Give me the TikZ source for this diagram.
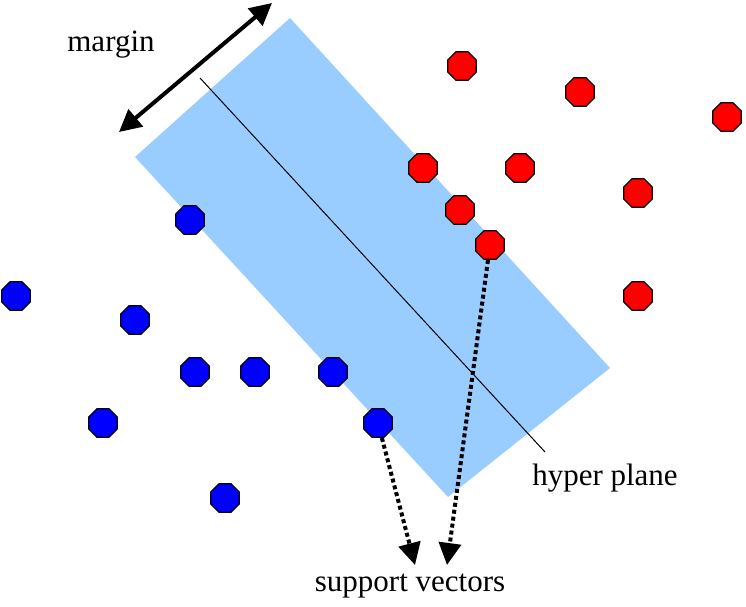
\documentclass[tikz,border=0pt]{standalone}
\usepackage{fontspec}
\setmainfont{Liberation Serif}
\usetikzlibrary{shapes.geometric, arrows.meta, positioning}
\definecolor{bandblue}{RGB}{153,204,255}

\begin{document}
\begin{tikzpicture}[x=1pt, y=-1pt,
    dot/.style={regular polygon, regular polygon sides=8, draw=black, line width=1.3pt, minimum size=31pt, inner sep=0pt},
    lbl/.style={font=\fontsize{31}{34}\selectfont, inner sep=0pt},
    svarrow/.style={line width=4pt, dash pattern=on 4pt off 3pt, -{Triangle[length=22pt, width=22pt]}}]
\useasboundingbox (0,0) rectangle (746,606);

% Margin band
\fill[bandblue] (290,18) -- (610,368) -- (448,497) -- (135,157) -- cycle;

% Hyper plane
\coordinate (hpA) at (200,78);
\coordinate (hpB) at (545,452);
\draw[line width=1pt] (hpA) -- (hpB);
\node[lbl] (hp) at (605,478) {hyper plane};

% Margin arrow
\coordinate (mA) at (119,132);
\coordinate (mB) at (272,3);
\draw[line width=4pt, {Triangle[length=22pt, width=22pt]}-{Triangle[length=22pt, width=22pt]}] (mA) -- (mB);
\node[lbl] (mg) at (111,45) {margin};

% Red class
\foreach \x/\y [count=\i] in {462/66, 580/92, 727/117, 423/168, 520/168, 638/193, 460/210, 490/245, 638/296} {
    \node[dot, fill=red] (r\i) at (\x,\y) {};
}

% Blue class
\foreach \x/\y [count=\i] in {190/220, 16/296, 135/320, 195/372, 255/372, 333/372, 103/423, 378/423, 225/498} {
    \node[dot, fill=blue] (b\i) at (\x,\y) {};
}

% Support vectors
\coordinate (svA) at (415,565);
\coordinate (svB) at (447,565);
\draw[svarrow] (b8) -- (svA);
\draw[svarrow] (r8) -- (svB);
\node[lbl] (sv) at (410,586) {support vectors};
\end{tikzpicture}
\end{document}
